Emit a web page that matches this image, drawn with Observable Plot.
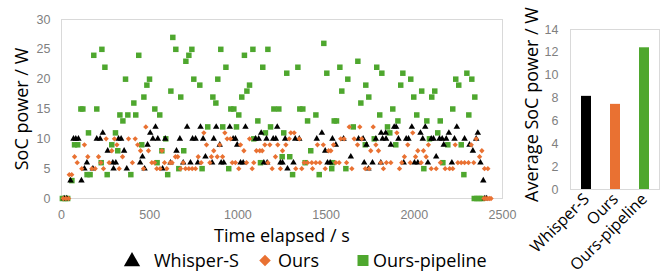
<!DOCTYPE html>
<html>
<head>
<meta charset="utf-8">
<script src="https://cdn.jsdelivr.net/npm/d3@7"></script>
<script src="https://cdn.jsdelivr.net/npm/@observablehq/plot@0.6"></script>
<style>
  html, body { margin: 0; padding: 0; background: #fff; }
  #wrap { position: relative; width: 672px; height: 275px; overflow: hidden; }
  #left { position: absolute; left: 0; top: 0; }
  #right { position: absolute; left: 510px; top: 0; }
  #legend { position: absolute; left: 0; top: 248px; }
</style>
</head>
<body>
<div id="wrap">
  <div id="left"></div>
  <div id="right"></div>
  <div id="legend"></div>
</div>
<script>
// ---- data ----
const seriesNames = ["Whisper-S", "Ours", "Ours-pipeline"];
const seriesColors = ["#000000", "#E97132", "#4EA72E"];
const xTicks = [0, 500, 1000, 1500, 2000, 2500];
const yTicks = [0, 5, 10, 15, 20, 25, 30];
const barTicks = [0, 2, 4, 6, 8, 10, 12, 14];
const averagePower = [8.15, 7.45, 12.4];

// [time elapsed (s), SoC power (W)]
const whisperS = [
  [15,0],[30,0],[51,3],[113,3],[68,10],[81,10],[96,10],[130,5],[144,6],[178,5],
  [200,10],[219,10],[234,11],[262,8],[291,6],[295,5],[308,6],[323,10],[338,10],[355,8],
  [370,5],[446,6],[459,7],[471,5],[488,9],[503,11],[518,10],[533,12],[546,10],[573,5],
  [588,10],[618,6],[652,8],[671,10],[690,6],[712,12],[731,6],[743,10],[760,10],[773,6],
  [788,12],[803,10],[816,7],[854,6],[863,10],[877,12],[897,9],[905,6],[920,6],[954,12],
  [973,10],[986,10],[996,9],[1015,6],[1030,6],[1043,12],[1100,10],[1118,10],[1132,11],[1147,6],
  [1162,10],[1166,6],[1200,10],[1215,10],[1223,12],[1241,6],[1253,6],[1268,10],[1281,5],[1315,6],
  [1325,10],[1348,10],[1447,10],[1476,11],[1495,8],[1508,6],[1523,6],[1536,10],[1555,9],[1599,10],
  [1640,7],[1684,10],[1710,10],[1716,6],[1729,9],[1740,5],[1763,6],[1782,10],[1810,6],[1812,11],
  [1820,10],[1838,11],[1840,10],[1867,9],[1886,12],[1897,12],[1910,10],[1940,6],[1954,10],[1967,10],
  [1986,12],[2001,6],[2020,6],[2035,11],[2048,10],[2062,12],[2077,6],[2096,10],[2109,10],[2124,7],
  [2143,10],[2158,10],[2167,9],[2181,10],[2196,11],[2213,6],[2228,10],[2241,12],[2285,10],[2313,9],
  [2332,8],[2351,10],[2360,11],[2375,6],[2391,3],[2400,0],[2410,0]
];
const ours = [
  [10,0],[25,0],[40,0],[44,4],[58,4],[74,7],[89,6],[115,5],[130,9],[149,7],
  [172,5],[191,5],[210,7],[223,6],[238,5],[253,10],[270,6],[285,8],[300,10],[314,9],
  [327,5],[346,7],[380,10],[402,6],[418,10],[432,9],[448,8],[465,5],[478,12],[493,8],
  [512,6],[527,6],[540,5],[559,5],[569,8],[584,6],[597,5],[616,6],[627,6],[646,7],
  [659,7],[675,5],[690,6],[703,5],[722,5],[741,5],[760,5],[775,7],[792,6],[807,11],
  [822,9],[841,6],[850,7],[863,8],[883,7],[897,9],[913,7],[926,11],[939,10],[958,10],
  [968,6],[986,6],[1005,5],[1015,9],[1034,8],[1049,6],[1066,10],[1081,5],[1090,6],[1105,8],
  [1124,8],[1138,8],[1153,9],[1170,6],[1181,9],[1194,5],[1213,7],[1226,9],[1241,5],[1253,8],
  [1272,9],[1291,10],[1300,11],[1319,11],[1328,5],[1348,10],[1362,5],[1376,6],[1395,6],[1419,6],
  [1423,5],[1442,6],[1451,9],[1465,6],[1484,9],[1495,5],[1514,8],[1527,8],[1542,9],[1555,6],
  [1574,6],[1583,10],[1602,10],[1616,6],[1631,12],[1646,5],[1659,10],[1678,9],[1691,12],[1702,10],
  [1722,5],[1744,5],[1753,8],[1767,12],[1782,9],[1797,8],[1810,6],[1825,5],[1842,6],[1867,6],
  [1901,11],[1916,5],[1929,6],[1944,7],[1963,9],[1977,6],[1991,11],[2007,7],[2020,8],[2039,6],
  [2052,8],[2067,7],[2080,9],[2096,5],[2124,5],[2148,6],[2175,5],[2200,5],[2218,5],[2232,9],
  [2247,6],[2266,6],[2285,6],[2307,6],[2323,9],[2337,6],[2351,10],[2370,7],[2383,8],[2398,5],
  [2417,5],[2395,0],[2405,0],[2415,0],[2425,0],[2435,0]
];
const oursPipeline = [
  [5,0],[20,0],[35,0],[59,3],[74,9],[92,9],[110,15],[121,15],[145,4],[162,4],
  [153,11],[183,24],[200,15],[225,6],[229,25],[246,22],[259,4],[285,9],[306,11],[319,8],
  [331,14],[348,13],[363,20],[376,14],[393,4],[410,16],[421,14],[438,24],[455,9],[467,17],
  [484,19],[499,20],[529,15],[542,6],[557,14],[569,8],[591,10],[602,4],[620,18],[631,27],
  [648,25],[665,5],[676,17],[693,8],[705,23],[722,24],[739,25],[750,20],[784,19],[797,5],
  [829,12],[858,17],[875,16],[886,20],[903,25],[914,12],[932,22],[948,5],[960,15],[977,15],
  [992,12],[1005,14],[1022,17],[1037,24],[1051,18],[1066,19],[1085,25],[1090,10],[1113,13],[1128,6],
  [1141,22],[1156,11],[1170,25],[1185,12],[1204,15],[1232,15],[1251,7],[1260,11],[1277,21],[1294,7],
  [1310,4],[1340,22],[1351,15],[1368,15],[1381,6],[1395,13],[1413,8],[1442,14],[1461,4],[1487,26],
  [1504,21],[1532,5],[1536,6],[1546,13],[1559,13],[1578,22],[1589,18],[1612,5],[1623,20],[1654,12],
  [1680,23],[1697,16],[1722,9],[1725,19],[1742,17],[1773,10],[1787,22],[1804,14],[1816,21],[1848,12],
  [1861,11],[1878,15],[1895,9],[1907,13],[1923,19],[1935,21],[1980,20],[1997,17],[2014,14],[2042,18],
  [2054,5],[2071,13],[2086,10],[2099,17],[2116,18],[2133,11],[2147,13],[2162,6],[2190,9],[2218,15],
  [2235,20],[2252,19],[2266,9],[2281,4],[2298,21],[2309,14],[2326,20],[2343,17],[2340,0],[2355,0],
  [2370,0],[2385,0]
];

// ---- styles ----
const tickFont = "Liberation Sans, Arial, sans-serif";
const titleFont = "Open Sans, sans-serif";
const tickColor = "#7f7f7f";
const frameColor = "#d9d9d9";
const plain = d => String(d);

// ---- left scatter ----
const left = Plot.plot({
  width: 512, height: 250,
  marginLeft: 61, marginRight: 10, marginTop: 19, marginBottom: 52,
  style: { background: "transparent", overflow: "visible" },
  x: { domain: [0, 2500] },
  y: { domain: [0, 30] },
  marks: [
    Plot.frame({ stroke: frameColor }),
    Plot.axisX({ ticks: xTicks, tickFormat: plain, tickSize: 0, tickPadding: 12, fill: tickColor, fontSize: 12.5, fontFamily: tickFont, label: null }),
    Plot.axisY({ ticks: yTicks, tickFormat: plain, tickSize: 0, tickPadding: 11, fill: tickColor, fontSize: 12.5, fontFamily: tickFont, label: null }),
    Plot.dot(oursPipeline, { x: d => d[0], y: d => d[1], symbol: "square", r: 3.1, fill: seriesColors[2], stroke: "none" }),
    Plot.dot(whisperS, { x: d => d[0], y: d => d[1], symbol: "triangle", r: 2.4, fill: seriesColors[0], stroke: "none" }),
    Plot.dot(ours, { x: d => d[0], y: d => d[1], symbol: "diamond2", r: 2.4, fill: seriesColors[1], stroke: "none" }),
    Plot.text(["Time elapsed / s"], { frameAnchor: "bottom", dy: 43, textAnchor: "middle", fontSize: 18, fontFamily: titleFont, fill: "#000" }),
    Plot.text(["SoC power / W"], { frameAnchor: "left", textAnchor: "middle", rotate: -90, dx: -39, fontSize: 18, fontFamily: titleFont, fill: "#000" })
  ]
});
document.getElementById("left").appendChild(left);

// ---- right bars ----
const barData = seriesNames.map((name, i) => ({ name, value: averagePower[i], color: seriesColors[i] }));
const right = Plot.plot({
  width: 162, height: 275,
  marginLeft: 60, marginRight: 13, marginTop: 29, marginBottom: 86,
  style: { background: "transparent", overflow: "visible" },
  x: { domain: seriesNames, paddingInner: 0.66, paddingOuter: 0.33 },
  y: { domain: [0, 14] },
  marks: [
    Plot.barY(barData, { x: "name", y: "value", fill: "color" }),
    Plot.frame({ stroke: frameColor }),
    Plot.axisY({ ticks: barTicks, tickFormat: plain, tickSize: 0, tickPadding: 12, fill: tickColor, fontSize: 12.5, fontFamily: tickFont, label: null }),
    Plot.axisX({ tickSize: 0, tickPadding: 7, tickRotate: -45, fill: "#000", fontSize: 16, fontFamily: titleFont, label: null }),
    Plot.text(["Average SoC power / W"], { frameAnchor: "left", textAnchor: "middle", rotate: -90, dx: -38, dy: -5, fontSize: 18, fontFamily: titleFont, fill: "#000" })
  ]
});
document.getElementById("right").appendChild(right);

// ---- legend ----
const legendSymbols = [d3.symbolTriangle, d3.symbolDiamond2, d3.symbolSquare];
const legendSizes = [115, 85, 121];
const legendX = [132, 265, 363];
const legendTextX = [154, 278, 373];
const lg = d3.select("#legend").append("svg").attr("width", 512).attr("height", 27);
seriesNames.forEach((name, i) => {
  lg.append("path")
    .attr("d", d3.symbol(legendSymbols[i], legendSizes[i])())
    .attr("transform", `translate(${legendX[i]},${12.5 + (i === 0 ? 1 : 0)})`)
    .attr("fill", seriesColors[i]);
  lg.append("text")
    .attr("x", legendTextX[i]).attr("y", 12.5).attr("dy", "0.35em")
    .attr("font-family", titleFont).attr("font-size", 18).attr("fill", "#000")
    .text(name);
});
</script>
</body>
</html>
